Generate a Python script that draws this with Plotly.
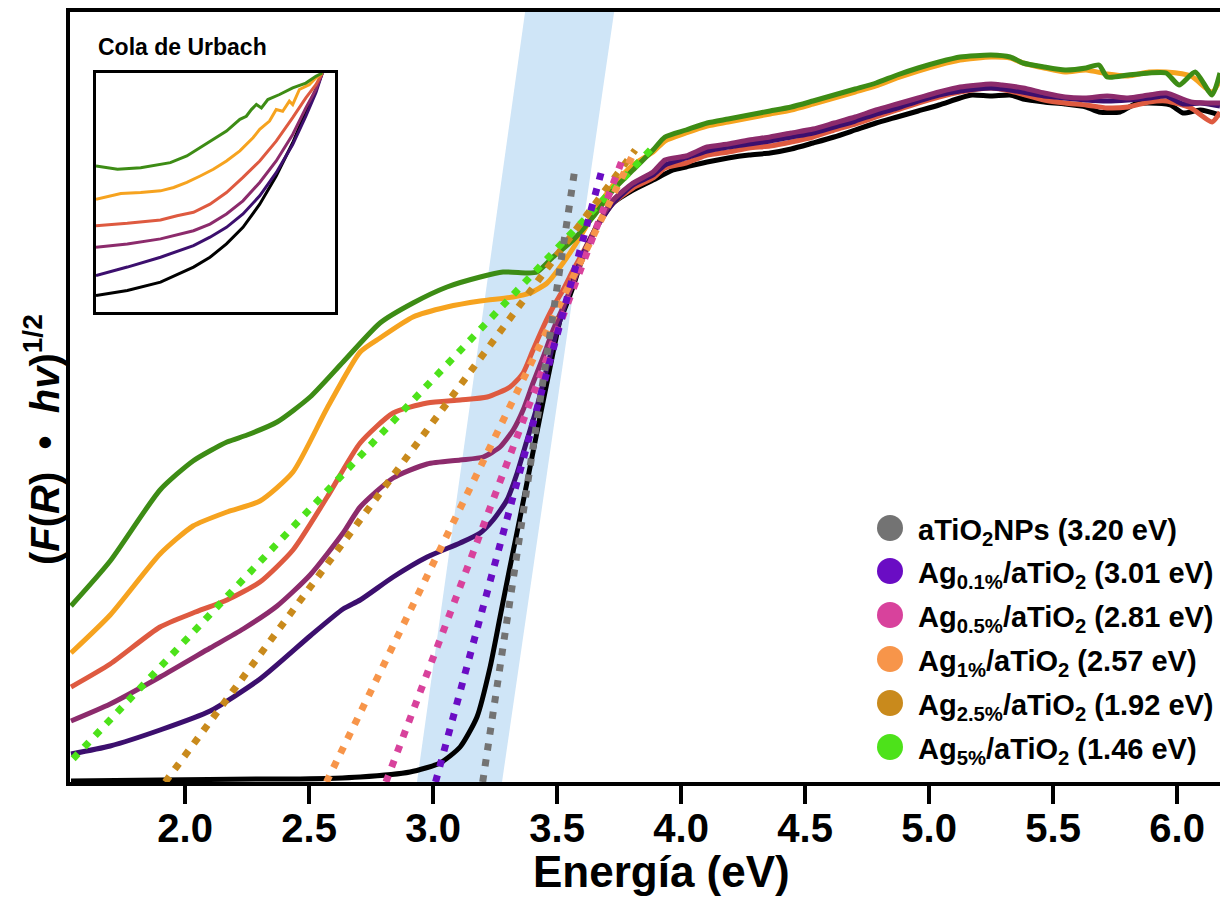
import plotly.graph_objects as go

# ---------------- data (energy in eV, intensity in a.u.) ----------------
E_black = [1.540, 1.899, 2.302, 2.464, 2.706, 2.907, 3.028, 3.109, 3.177, 3.230, 3.270, 3.310, 3.351, 3.391, 3.431,
           3.472, 3.512, 3.524, 3.560, 3.593, 3.621, 3.661, 3.726, 3.806, 3.887, 3.968, 4.020, 4.105, 4.190, 4.274,
           4.359, 4.444, 4.532, 4.617, 4.702, 4.786, 4.871, 4.956, 5.040, 5.125, 5.173, 5.250, 5.327, 5.379, 5.464,
           5.548, 5.633, 5.685, 5.770, 5.831, 5.887, 5.972, 6.024, 6.093, 6.173]
I_black = [0.01, 0.02, 0.03, 0.03, 0.05, 0.10, 0.19, 0.35, 0.65, 1.15, 1.65, 2.15, 2.65, 3.15, 3.65,
           4.15, 4.62, 4.69, 4.92, 5.17, 5.34, 5.57, 5.79, 5.92, 6.02, 6.12, 6.15, 6.20, 6.24, 6.27,
           6.29, 6.33, 6.39, 6.45, 6.52, 6.59, 6.65, 6.71, 6.77, 6.84, 6.87, 6.86, 6.87, 6.83, 6.80,
           6.78, 6.75, 6.70, 6.70, 6.78, 6.79, 6.77, 6.69, 6.72, 6.67]

E_ag01 = [1.540, 1.698, 1.899, 2.101, 2.302, 2.504, 2.637, 2.706, 2.839, 2.976, 3.109, 3.190, 3.242, 3.298, 3.339,
          3.379, 3.419, 3.460, 3.500, 3.532, 3.573, 3.621, 3.673, 3.726, 3.806, 3.887, 3.935, 4.020, 4.105, 4.190,
          4.274, 4.359, 4.444, 4.532, 4.617, 4.702, 4.786, 4.871, 4.956, 5.040, 5.125, 5.250, 5.327, 5.464, 5.548,
          5.633, 5.718, 5.802, 5.887, 5.956, 6.024, 6.093, 6.173]
I_ag01 = [0.28, 0.36, 0.52, 0.71, 1.03, 1.46, 1.73, 1.82, 2.05, 2.25, 2.39, 2.49, 2.62, 2.82, 3.09,
          3.42, 3.75, 4.15, 4.52, 4.77, 5.07, 5.37, 5.60, 5.79, 5.97, 6.07, 6.17, 6.24, 6.31, 6.35,
          6.38, 6.41, 6.45, 6.49, 6.55, 6.61, 6.68, 6.74, 6.81, 6.87, 6.91, 6.94, 6.92, 6.86, 6.84,
          6.82, 6.81, 6.82, 6.84, 6.86, 6.78, 6.79, 6.76]

E_ag05 = [1.540, 1.698, 1.899, 2.101, 2.234, 2.371, 2.504, 2.637, 2.706, 2.839, 2.976, 3.109, 3.202, 3.270, 3.323,
          3.363, 3.403, 3.444, 3.484, 3.524, 3.565, 3.605, 3.645, 3.685, 3.726, 3.806, 3.887, 3.935, 4.020, 4.105,
          4.190, 4.274, 4.359, 4.444, 4.532, 4.617, 4.702, 4.786, 4.871, 4.956, 5.040, 5.125, 5.250, 5.294, 5.379,
          5.464, 5.548, 5.633, 5.718, 5.802, 5.887, 5.956, 6.056, 6.173]
I_ag05 = [0.61, 0.78, 1.05, 1.34, 1.53, 1.76, 2.07, 2.49, 2.75, 3.04, 3.18, 3.22, 3.25, 3.35, 3.52,
          3.72, 3.99, 4.25, 4.52, 4.75, 4.99, 5.25, 5.47, 5.67, 5.82, 5.99, 6.10, 6.22, 6.26, 6.35,
          6.38, 6.42, 6.45, 6.49, 6.53, 6.59, 6.65, 6.72, 6.78, 6.84, 6.90, 6.95, 6.98, 6.97, 6.94,
          6.89, 6.85, 6.84, 6.86, 6.84, 6.87, 6.89, 6.80, 6.79]

E_ag1 = [1.540, 1.698, 1.899, 2.032, 2.169, 2.302, 2.435, 2.573, 2.706, 2.839, 2.976, 3.109, 3.218, 3.310, 3.363,
         3.403, 3.444, 3.484, 3.524, 3.565, 3.605, 3.645, 3.685, 3.726, 3.806, 3.887, 3.935, 4.020, 4.105, 4.190,
         4.274, 4.359, 4.444, 4.532, 4.617, 4.702, 4.786, 4.871, 4.956, 5.040, 5.125, 5.250, 5.327, 5.464, 5.548,
         5.633, 5.718, 5.802, 5.887, 5.956, 6.056, 6.141, 6.173]
I_ag1 = [0.95, 1.18, 1.55, 1.69, 1.82, 2.00, 2.32, 2.85, 3.39, 3.69, 3.79, 3.82, 3.85, 3.95, 4.09,
         4.32, 4.55, 4.75, 4.92, 5.12, 5.30, 5.49, 5.65, 5.79, 5.94, 6.04, 6.14, 6.19, 6.27, 6.30,
         6.34, 6.36, 6.40, 6.45, 6.52, 6.58, 6.65, 6.72, 6.79, 6.85, 6.90, 6.94, 6.91, 6.82, 6.79,
         6.77, 6.74, 6.75, 6.80, 6.81, 6.74, 6.60, 6.70]

E_ag25 = [1.540, 1.698, 1.899, 2.032, 2.169, 2.302, 2.435, 2.573, 2.706, 2.786, 2.919, 3.056, 3.190, 3.323, 3.391,
          3.460, 3.524, 3.593, 3.661, 3.726, 3.806, 3.887, 3.935, 4.020, 4.105, 4.190, 4.274, 4.359, 4.444, 4.532,
          4.617, 4.702, 4.786, 4.871, 4.956, 5.040, 5.125, 5.250, 5.327, 5.379, 5.464, 5.548, 5.633, 5.718, 5.802,
          5.887, 5.956, 6.056, 6.141, 6.173]
I_ag25 = [1.29, 1.67, 2.28, 2.56, 2.70, 2.81, 3.10, 3.74, 4.30, 4.44, 4.65, 4.75, 4.81, 4.85, 4.89,
          4.99, 5.19, 5.45, 5.74, 5.97, 6.17, 6.30, 6.41, 6.49, 6.56, 6.60, 6.64, 6.68, 6.72, 6.78,
          6.84, 6.90, 6.96, 7.04, 7.11, 7.17, 7.22, 7.25, 7.24, 7.19, 7.14, 7.10, 7.12, 7.08, 7.06,
          7.10, 7.10, 7.06, 6.90, 7.02]

E_ag5 = [1.540, 1.698, 1.899, 2.032, 2.169, 2.250, 2.371, 2.504, 2.637, 2.786, 2.919, 3.056, 3.190, 3.282, 3.379,
         3.419, 3.484, 3.565, 3.645, 3.726, 3.806, 3.887, 3.935, 4.020, 4.105, 4.190, 4.274, 4.359, 4.444, 4.532,
         4.617, 4.702, 4.786, 4.871, 4.956, 5.040, 5.125, 5.250, 5.327, 5.379, 5.464, 5.548, 5.633, 5.685, 5.718,
         5.802, 5.887, 5.956, 6.008, 6.073, 6.141, 6.173]
I_ag5 = [1.76, 2.21, 2.92, 3.21, 3.40, 3.47, 3.60, 3.85, 4.20, 4.59, 4.79, 4.95, 5.05, 5.10, 5.09,
         5.10, 5.25, 5.42, 5.65, 5.92, 6.12, 6.32, 6.45, 6.52, 6.59, 6.63, 6.67, 6.71, 6.75, 6.81,
         6.87, 6.93, 6.99, 7.07, 7.14, 7.20, 7.25, 7.27, 7.25, 7.19, 7.15, 7.12, 7.14, 7.17, 7.05,
         7.07, 7.09, 7.09, 6.97, 7.10, 6.87, 7.09]

# Tauc tangent lines: x-intercept (band gap) and upper end
Eg = [3.20, 3.01, 2.81, 2.57, 1.92, 1.46]
tan_top_E = [3.573, 3.685, 3.770, 3.815, 3.815, 3.895]
tan_top_I = [6.15, 6.16, 6.27, 6.32, 6.32, 6.37]

legend_labels = [
    "aTiO<sub>2</sub>NPs (3.20 eV)",
    "Ag<sub>0.1%</sub>/aTiO<sub>2</sub> (3.01 eV)",
    "Ag<sub>0.5%</sub>/aTiO<sub>2</sub> (2.81 eV)",
    "Ag<sub>1%</sub>/aTiO<sub>2</sub> (2.57 eV)",
    "Ag<sub>2.5%</sub>/aTiO<sub>2</sub> (1.92 eV)",
    "Ag<sub>5%</sub>/aTiO<sub>2</sub> (1.46 eV)",
]

# Urbach tail inset (normalised units)
u_black = [0.0, 0.131, 0.270, 0.408, 0.477, 0.546, 0.615, 0.685, 0.754, 0.823, 0.878, 0.920, 0.947]
v_black = [0.069, 0.090, 0.125, 0.188, 0.229, 0.285, 0.354, 0.451, 0.569, 0.708, 0.840, 0.931, 1.0]
u_ag01 = [0.0, 0.131, 0.270, 0.408, 0.477, 0.546, 0.615, 0.685, 0.754, 0.823, 0.878, 0.920, 0.947]
v_ag01 = [0.153, 0.188, 0.229, 0.278, 0.313, 0.354, 0.410, 0.486, 0.583, 0.701, 0.819, 0.917, 1.0]
u_ag05 = [0.0, 0.131, 0.270, 0.408, 0.477, 0.546, 0.615, 0.685, 0.754, 0.823, 0.878, 0.920, 0.947]
v_ag05 = [0.271, 0.285, 0.306, 0.340, 0.368, 0.410, 0.465, 0.542, 0.632, 0.743, 0.854, 0.931, 1.0]
u_ag1 = [0.0, 0.131, 0.270, 0.339, 0.408, 0.477, 0.546, 0.615, 0.685, 0.754, 0.823, 0.878, 0.920, 0.947]
v_ag1 = [0.361, 0.371, 0.385, 0.403, 0.417, 0.451, 0.500, 0.563, 0.632, 0.715, 0.813, 0.896, 0.951, 1.0]
u_ag25 = [0.0, 0.062, 0.104, 0.187, 0.270, 0.325, 0.380, 0.436, 0.491, 0.546, 0.602, 0.657, 0.685, 0.726,
          0.754, 0.781, 0.809, 0.823, 0.851, 0.892, 0.920, 0.947]
v_ag25 = [0.472, 0.486, 0.496, 0.500, 0.507, 0.521, 0.542, 0.569, 0.597, 0.632, 0.674, 0.729, 0.764, 0.799,
          0.847, 0.840, 0.882, 0.868, 0.931, 0.951, 0.979, 1.0]
u_ag5 = [0.0, 0.090, 0.187, 0.270, 0.311, 0.380, 0.436, 0.491, 0.546, 0.602, 0.629, 0.650, 0.671, 0.692,
         0.719, 0.768, 0.823, 0.878, 0.920, 0.947]
v_ag5 = [0.611, 0.597, 0.604, 0.618, 0.625, 0.653, 0.688, 0.722, 0.757, 0.806, 0.819, 0.847, 0.868, 0.854,
         0.889, 0.910, 0.938, 0.958, 0.986, 1.0]

# ---------------- styles ----------------
solid_cols = ["#000000", "#3c0f6e", "#8c2b6c", "#de5a40", "#f6a31f", "#3d8c15"]
dot_cols = ["#737373", "#6a0cc4", "#d8429c", "#f7954a", "#c98a1c", "#4de21a"]
FONT = "Liberation Sans, Arial, sans-serif"

fig = go.Figure()

series = [(E_black, I_black), (E_ag01, I_ag01), (E_ag05, I_ag05),
          (E_ag1, I_ag1), (E_ag25, I_ag25), (E_ag5, I_ag5)]
order = [0, 3, 1, 2, 4, 5]
for k in order:
    ex, iy = series[k]
    fig.add_trace(go.Scatter(x=ex, y=iy, mode="lines", showlegend=False,
                             line=dict(color=solid_cols[k], width=5, shape="spline", smoothing=0.6),
                             hoverinfo="skip"))

for k in [5, 4, 3, 2, 1, 0]:
    fig.add_trace(go.Scatter(x=[Eg[k], tan_top_E[k]], y=[0, tan_top_I[k]], mode="lines",
                             showlegend=False,
                             line=dict(color=dot_cols[k], width=7, dash="7px,9px"),
                             hoverinfo="skip"))

inset = [(u_black, v_black), (u_ag01, v_ag01), (u_ag05, v_ag05),
         (u_ag1, v_ag1), (u_ag25, v_ag25), (u_ag5, v_ag5)]
for k, (u, v) in enumerate(inset):
    fig.add_trace(go.Scatter(x=u, y=v, xaxis="x2", yaxis="y2", mode="lines",
                             showlegend=False, hoverinfo="skip",
                             line=dict(color=solid_cols[k], width=3)))

W, H = 1220, 898
ML, MR, MT, MB = 70, 0, 12, 116
pw, ph = W - ML - MR, H - MT - MB

def px(xp):
    return (xp - ML) / pw

def py(yp):
    return (H - MB - yp) / ph

shapes = [
    # absorption-edge band
    dict(type="path", xref="x", yref="y",
         path="M 2.935,0 L 3.278,0 L 3.730,7.70 L 3.371,7.70 Z",
         fillcolor="#cfe5f7", line=dict(width=0), layer="below"),
    # inset background
    dict(type="rect", xref="x2 domain", yref="y2 domain", x0=0, x1=1, y0=0, y1=1,
         fillcolor="#cce3f5", line=dict(width=0), layer="below"),
]

NB = "\u00a0"
ytitle = ("<b>(<i>F</i>(<i>R</i>)" + NB * 2 + "•" + NB * 2 + "<i>hv</i>)<sup>1/2</sup></b>")

annotations = [
    dict(text="<b>Cola de Urbach</b>", xref="paper", yref="paper", x=px(96), y=py(47),
         xanchor="left", yanchor="middle", showarrow=False,
         font=dict(family=FONT, size=23, color="black")),
    dict(text="<b>Energía (eV)</b>", xref="paper", yref="paper", x=px(661), y=py(871),
         xanchor="center", yanchor="middle", showarrow=False,
         font=dict(family=FONT, size=44, color="black")),
    dict(text=ytitle, xref="paper", yref="paper",
         x=px(42), y=py(440), xanchor="center", yanchor="middle", textangle=-90, showarrow=False,
         font=dict(family=FONT, size=40, color="black")),
]

leg_y = [528, 571, 615, 659, 703, 747]
for k, lab in enumerate(legend_labels):
    shapes.append(dict(type="circle", xref="paper", yref="paper",
                       xsizemode="pixel", ysizemode="pixel",
                       xanchor=px(890), yanchor=py(leg_y[k]),
                       x0=-13, x1=13, y0=-13, y1=13,
                       fillcolor=dot_cols[k], line=dict(width=0)))
    annotations.append(dict(text="<b>" + lab + "</b>", xref="paper", yref="paper",
                            x=px(916), y=py(leg_y[k] - 16), xanchor="left", yanchor="top",
                            showarrow=False, font=dict(family=FONT, size=29, color="black")))

fig.update_layout(
    width=W, height=H,
    margin=dict(l=ML, r=MR, t=MT, b=MB),
    paper_bgcolor="white", plot_bgcolor="white",
    showlegend=False,
    xaxis=dict(range=[1.536, 6.173], tick0=2.0, dtick=0.5, tickformat=".1f",
               showline=True, linewidth=4, linecolor="black", mirror=True,
               ticks="outside", ticklen=18, tickwidth=4, tickcolor="black",
               ticklabelstandoff=-10,
               showgrid=False, zeroline=False,
               tickfont=dict(family=FONT, size=40, color="black", weight="bold")),
    yaxis=dict(range=[0, 7.70], showline=True, linewidth=4, linecolor="black",
               ticks="", showticklabels=False, showgrid=False, zeroline=False),
    xaxis2=dict(domain=[px(96), px(335)], anchor="y2", range=[0, 1], showline=True, mirror=True,
                linewidth=3, linecolor="black", showticklabels=False, ticks="",
                showgrid=False, zeroline=False),
    yaxis2=dict(domain=[py(312), py(73)], anchor="x2", range=[0, 1], showline=True, mirror=True,
                linewidth=3, linecolor="black", showticklabels=False, ticks="",
                showgrid=False, zeroline=False),
    shapes=shapes,
    annotations=annotations,
)

fig.write_html("out.html")
